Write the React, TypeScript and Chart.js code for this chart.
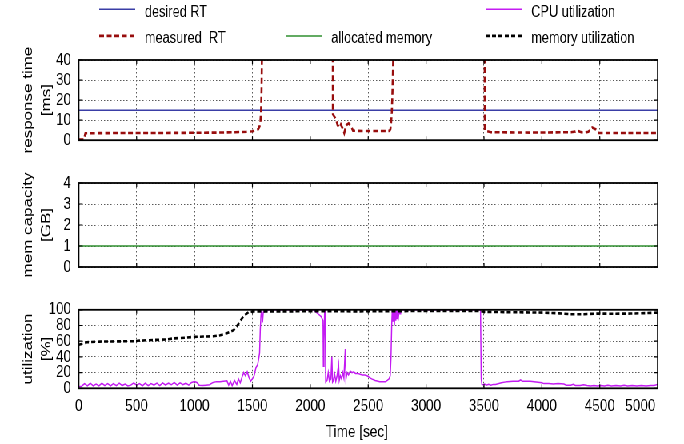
import React, { useEffect, useRef } from 'react';
import { Chart, registerables } from 'chart.js';

Chart.register(...registerables);

// ---------- data ----------
const X_MIN = 0;
const X_MAX = 5000;
const X_TICK_VALUES = [0, 500, 1000, 1500, 2000, 2500, 3000, 3500, 4000, 4500, 4850];
const X_TICK_LABELS = ['0', '500', '1000', '1500', '2000', '2500', '3000', '3500', '4000', '4500', '5000'];
const X_LABEL_ONLY = 4850; // the "5000" label sits left of the border, without grid line
const X_TITLE = 'Time [sec]';

const DESIRED_RT = 15;
const ALLOCATED_MEMORY = 1;
const FLAT_TIMES = [0, 5000];

const RT_TIME = [
  0, 45, 52, 58, 150, 400, 700, 1000, 1200, 1350, 1450, 1500, 1530, 1550, 1562, 1570, 1575, 1579, 1582, 1590,
  2190, 2195, 2207, 2216, 2224, 2236, 2253, 2264, 2282, 2293, 2311, 2331, 2351, 2369, 2450, 2550, 2650, 2685,
  2692, 2698, 2704, 2710, 2716, 2722, 3500, 3507, 3520, 3560, 3700, 3900, 4100, 4250, 4290, 4305, 4330, 4362,
  4400, 4420, 4435, 4463, 4480, 4492, 4600, 4800, 5000,
];
const RT_VALUE = [
  0.3, 0.3, 2, 3.5, 3.5, 3.6, 3.6, 3.7, 3.8, 4.0, 4.2, 4.5, 4.9, 5.5, 7, 10, 15, 25, 40, 300,
  300, 13, 11.8, 11, 10, 7.5, 6.3, 7.8, 5.5, 3.6, 7.5, 8.4, 7.2, 4.7, 4.6, 4.6, 4.6, 4.7,
  5.5, 9, 14, 25, 40, 300, 300, 5, 4.6, 4.0, 3.9, 3.8, 3.9, 4.0, 4.3, 4.8, 4.2, 3.6,
  4.2, 5.2, 6.3, 5.5, 4.6, 3.6, 3.6, 3.6, 3.6,
];

const MEM_TIME = [
  0, 40, 69, 184, 472, 530, 760, 818, 933, 991, 1164, 1222, 1279, 1337, 1366, 1394, 1423, 1467, 1510,
  1800, 2100, 2400, 2700, 3000, 3300, 3470, 3498, 3700, 4017, 4150, 4248, 4363, 4478, 4620, 4766, 4900, 5000,
];
const MEM_VALUE = [
  55.5, 57, 58.7, 59.5, 60, 60.8, 62.3, 63.5, 64.6, 65.5, 66.3, 67.5, 70.2, 74, 79, 85.3, 92, 97, 98,
  98, 98.3, 98, 98.3, 98.5, 98.5, 98.4, 97.5, 97, 96.4, 95.5, 94.4, 94.4, 95.2, 95, 95.2, 95.8, 96.4,
];

const CPU_TIME = [
  0, 25, 50, 75, 100, 125, 150, 175, 200, 225, 250, 275, 300, 325, 350, 375, 400, 425, 450, 475,
  500, 525, 550, 575, 600, 625, 650, 675, 700, 725, 750, 775, 800, 825, 850, 875, 900, 925, 950, 975,
  1000, 1020, 1040, 1070, 1100, 1130, 1160, 1190, 1220, 1250, 1280, 1295, 1310, 1325, 1345, 1365, 1380, 1395, 1410, 1425,
  1440, 1455, 1470, 1485, 1500, 1515, 1530, 1545, 1555, 1562, 1568, 1574, 1580, 1587, 1594, 1600, 1620, 1640, 2030, 2050,
  2075, 2095, 2110, 2113, 2118, 2124, 2128, 2133, 2145, 2155, 2165, 2178, 2186, 2192, 2200, 2210, 2220, 2230, 2244, 2250,
  2260, 2270, 2280, 2290, 2302, 2308, 2318, 2330, 2345, 2360, 2375, 2390, 2410, 2430, 2450, 2470, 2490, 2510, 2530, 2560,
  2600, 2630, 2650, 2665, 2680, 2690, 2697, 2703, 2708, 2714, 2720, 2726, 2732, 2738, 2744, 2750, 2756, 2762, 2768, 2775,
  2780, 3470, 3476, 3482, 3495, 3505, 3520, 3540, 3560, 3580, 3600, 3650, 3700, 3750, 3800, 3816, 3830, 3860, 3900, 3950,
  4000, 4017, 4060, 4100, 4140, 4190, 4210, 4250, 4270, 4290, 4330, 4360, 4390, 4420, 4450, 4480, 4510, 4540, 4570, 4600,
  4640, 4680, 4710, 4740, 4780, 4820, 4860, 4900, 4940, 4970, 5000,
];
const CPU_VALUE = [
  2, 2.5, 6, 3, 6.5, 3, 5.5, 3, 6.5, 3.5, 6, 3, 6, 3.5, 6.5, 3.5, 5.5, 3, 4, 7,
  4, 6, 3, 6.5, 3.5, 6, 4, 6.5, 3.5, 7, 4, 6.5, 4.5, 7.5, 4, 7, 4.5, 6.5, 4, 7.5,
  8.5, 7.5, 4, 3.5, 4, 4.5, 7.5, 8.5, 8.5, 9, 9.5, 4, 9, 3.5, 10, 5, 12, 7, 14, 20,
  16, 21, 14, 9, 12, 16, 26, 30, 38, 45, 75, 93, 100, 84, 97, 100, 98, 100, 100, 97,
  94, 91, 86, 28, 60, 100, 100, 8, 10, 20, 9, 12, 40, 8, 10, 18, 9, 15, 30, 10,
  16, 12, 20, 13, 50, 12, 20, 17, 22, 20, 21, 19, 19, 18, 17, 17, 16, 14, 12, 10,
  8.5, 8.5, 8.5, 10, 12, 16, 40, 80, 100, 85, 100, 80, 100, 86, 100, 88, 100, 92, 100, 95,
  100, 100, 12, 5, 4.5, 5.5, 4, 5, 4, 5, 5, 7, 8.5, 9, 9, 10.6, 9, 9, 9, 8,
  7, 6, 6, 5.5, 6, 5.5, 4, 4, 5, 3.5, 3.5, 4.5, 3.5, 3, 3.5, 3, 3.5, 3, 4, 3,
  3.5, 3, 4, 3, 3.5, 3, 3.5, 3, 3.5, 3.5, 5,
];

const RT_TICKS = { min: 0, max: 40, step: 10 };
const MEM_CAP_TICKS = { min: 0, max: 4, step: 1 };
const UTIL_TICKS = { min: 0, max: 100, step: 20 };

const RT_TITLE = ['response time', '[ms]'];
const MEM_TITLE = ['mem capacity', '[GB]'];
const UTIL_TITLE = ['utilization', '[%]'];

// ---------- series styling ----------
const SERIES: Record<string, { label: string; color: string; width: number; dash: number[] }> = {
  desired: { label: 'desired RT', color: '#3a3ea6', width: 1.5, dash: [] },
  measured: { label: 'measured  RT', color: '#980d0d', width: 2.6, dash: [6, 3.5] },
  alloc: { label: 'allocated memory', color: '#2f8f2f', width: 1.5, dash: [] },
  cpu: { label: 'CPU utilization', color: '#c41cf2', width: 1.5, dash: [] },
  mem: { label: 'memory utilization', color: '#000000', width: 2.6, dash: [5, 3] },
};

const LEGEND_SLOTS = [
  { key: 'desired', col: 0, row: 0 },
  { key: 'cpu', col: 2, row: 0 },
  { key: 'measured', col: 0, row: 1 },
  { key: 'alloc', col: 1, row: 1 },
  { key: 'mem', col: 2, row: 1 },
];

// ---------- layout (internal canvas px, squeezed horizontally on screen) ----------
const SQUEEZE = 0.8;
const W = 855;
const PLOT_LEFT = 98.4;
const PLOT_RIGHT = 822.1;
const FONT = "'Liberation Sans', Arial, sans-serif";
const TEXT = '#000000';
const GRID = '#5a5a5a';
const GRID_DASH = [1.5, 2.5];
const LEGEND_COL_X = [124, 357, 607];
const LEGEND_ROW_Y = [9.2, 35.9];
const LEGEND_SAMPLE = 45;

const pts = (xs: number[], ys: number[]) => xs.map((x, i) => ({ x, y: ys[i] }));
const flat = (v: number) => FLAT_TIMES.map((x) => ({ x, y: v }));

function dataset(key: string, data: { x: number; y: number }[]) {
  const s = SERIES[key];
  return {
    label: s.label,
    data,
    borderColor: s.color,
    backgroundColor: s.color,
    borderWidth: s.width,
    borderDash: s.dash,
    pointRadius: 0,
    tension: 0,
    fill: false,
  };
}

function xScale(showLabels: boolean, height: number) {
  return {
    type: 'linear',
    min: X_MIN,
    max: X_MAX,
    afterBuildTicks: (s: any) => {
      s.ticks = X_TICK_VALUES.map((v) => ({ value: v }));
    },
    afterFit: (s: any) => {
      s.height = height;
    },
    ticks: {
      display: showLabels,
      autoSkip: false,
      maxRotation: 0,
      minRotation: 0,
      padding: 7.5,
      color: TEXT,
      font: { family: FONT, size: 17 },
      callback: (_v: any, i: number) => X_TICK_LABELS[i],
    },
    grid: {
      drawTicks: false,
      lineWidth: 1,
      color: (c: any) => (c.tick && c.tick.value === X_LABEL_ONLY ? 'rgba(0,0,0,0)' : GRID),
    },
    border: { display: false, dash: GRID_DASH },
    title: {
      display: showLabels,
      text: X_TITLE + '\u00a0'.repeat(6),
      color: TEXT,
      font: { family: FONT, size: 17, lineHeight: 1.2 },
      padding: { top: 0, bottom: 1 },
    },
  };
}

function yScale(t: { min: number; max: number; step: number }, title: string[]) {
  return {
    type: 'linear',
    min: t.min,
    max: t.max,
    afterFit: (s: any) => {
      s.width = PLOT_LEFT;
    },
    ticks: {
      stepSize: t.step,
      autoSkip: false,
      padding: 9.6,
      color: TEXT,
      font: { family: FONT, size: 17 },
    },
    grid: { drawTicks: false, lineWidth: 1, color: GRID },
    border: { display: false, dash: GRID_DASH },
    title: {
      display: true,
      text: title,
      color: TEXT,
      font: { family: FONT, size: 17, lineHeight: 1.35 },
      padding: { top: 24, bottom: 0 },
    },
  };
}

const framePlugin = {
  id: 'frame',
  afterDatasetsDraw(chart: any) {
    const { ctx, chartArea } = chart;
    const { left, right, top, bottom } = chartArea;
    const x = chart.scales.x;
    const y = chart.scales.y;
    ctx.save();
    ctx.setLineDash([]);
    ctx.strokeStyle = '#000';
    ctx.lineWidth = 1.2;
    ctx.beginPath();
    x.ticks.forEach((t: any) => {
      if (t.value === X_LABEL_ONLY) return;
      const px = x.getPixelForValue(t.value);
      ctx.moveTo(px, bottom);
      ctx.lineTo(px, bottom - 4);
      ctx.moveTo(px, top);
      ctx.lineTo(px, top + 4);
    });
    y.ticks.forEach((t: any) => {
      const py = y.getPixelForValue(t.value);
      ctx.moveTo(left, py);
      ctx.lineTo(left + 5, py);
      ctx.moveTo(right, py);
      ctx.lineTo(right - 5, py);
    });
    ctx.stroke();
    ctx.lineWidth = 1.8;
    ctx.strokeRect(left, top, right - left, bottom - top);
    ctx.restore();
  },
};

const legendPlugin = {
  id: 'gridLegend',
  afterDraw(chart: any) {
    const { ctx } = chart;
    ctx.save();
    LEGEND_SLOTS.forEach((slot) => {
      const s = SERIES[slot.key];
      const x0 = LEGEND_COL_X[slot.col];
      const yy = LEGEND_ROW_Y[slot.row];
      ctx.strokeStyle = s.color;
      ctx.lineWidth = s.width;
      ctx.setLineDash(s.dash);
      ctx.beginPath();
      ctx.moveTo(x0, yy);
      ctx.lineTo(x0 + LEGEND_SAMPLE, yy);
      ctx.stroke();
      ctx.setLineDash([]);
      ctx.fillStyle = TEXT;
      ctx.font = `16px ${FONT}`;
      ctx.textAlign = 'left';
      ctx.textBaseline = 'alphabetic';
      ctx.fillText(s.label, x0 + LEGEND_SAMPLE + 12, yy + 7.5);
    });
    ctx.restore();
  },
};

function makeConfig(datasets: any[], yS: any, xS: any, padding: any, extra: any[]) {
  return {
    type: 'line',
    data: { datasets },
    options: {
      animation: false,
      responsive: false,
      maintainAspectRatio: false,
      events: [],
      layout: { padding },
      plugins: { legend: { display: false }, tooltip: { enabled: false }, title: { display: false } },
      scales: { x: xS, y: yS },
    },
    plugins: [framePlugin, ...extra],
  } as any;
}

const PANEL_A_H = 160;
const PANEL_B_H = 130;
const PANEL_C_H = 154;

export default function App() {
  const refA = useRef<HTMLCanvasElement>(null);
  const refB = useRef<HTMLCanvasElement>(null);
  const refC = useRef<HTMLCanvasElement>(null);

  useEffect(() => {
    const right = W - PLOT_RIGHT;
    const charts: Chart[] = [];
    if (refA.current) {
      charts.push(
        new Chart(
          refA.current,
          makeConfig(
            [dataset('measured', pts(RT_TIME, RT_VALUE)), dataset('desired', flat(DESIRED_RT))],
            yScale(RT_TICKS, RT_TITLE),
            xScale(false, 0),
            { top: 60, bottom: 15, left: 0, right },
            [legendPlugin]
          )
        )
      );
    }
    if (refB.current) {
      charts.push(
        new Chart(
          refB.current,
          makeConfig(
            [dataset('alloc', flat(ALLOCATED_MEMORY))],
            yScale(MEM_CAP_TICKS, MEM_TITLE),
            xScale(false, 0),
            { top: 23, bottom: 23, left: 0, right },
            []
          )
        )
      );
    }
    if (refC.current) {
      charts.push(
        new Chart(
          refC.current,
          makeConfig(
            [dataset('mem', pts(MEM_TIME, MEM_VALUE)), dataset('cpu', pts(CPU_TIME, CPU_VALUE))],
            yScale(UTIL_TICKS, UTIL_TITLE),
            xScale(true, 55.7),
            { top: 14, bottom: 0, left: 0, right },
            []
          )
        )
      );
    }
    return () => charts.forEach((c) => c.destroy());
  }, []);

  const canvasStyle = (top: number, h: number): React.CSSProperties => ({
    position: 'absolute',
    left: 0,
    top,
    width: W,
    height: h,
    display: 'block',
  });

  return (
    <div
      style={{
        position: 'absolute',
        left: 0,
        top: 0,
        width: W,
        height: 444,
        background: '#ffffff',
        transform: `scaleX(${SQUEEZE})`,
        transformOrigin: '0 0',
      }}
    >
      <canvas ref={refA} width={W} height={PANEL_A_H} style={canvasStyle(0, PANEL_A_H)} />
      <canvas ref={refB} width={W} height={PANEL_B_H} style={canvasStyle(PANEL_A_H, PANEL_B_H)} />
      <canvas ref={refC} width={W} height={PANEL_C_H} style={canvasStyle(PANEL_A_H + PANEL_B_H, PANEL_C_H)} />
    </div>
  );
}
